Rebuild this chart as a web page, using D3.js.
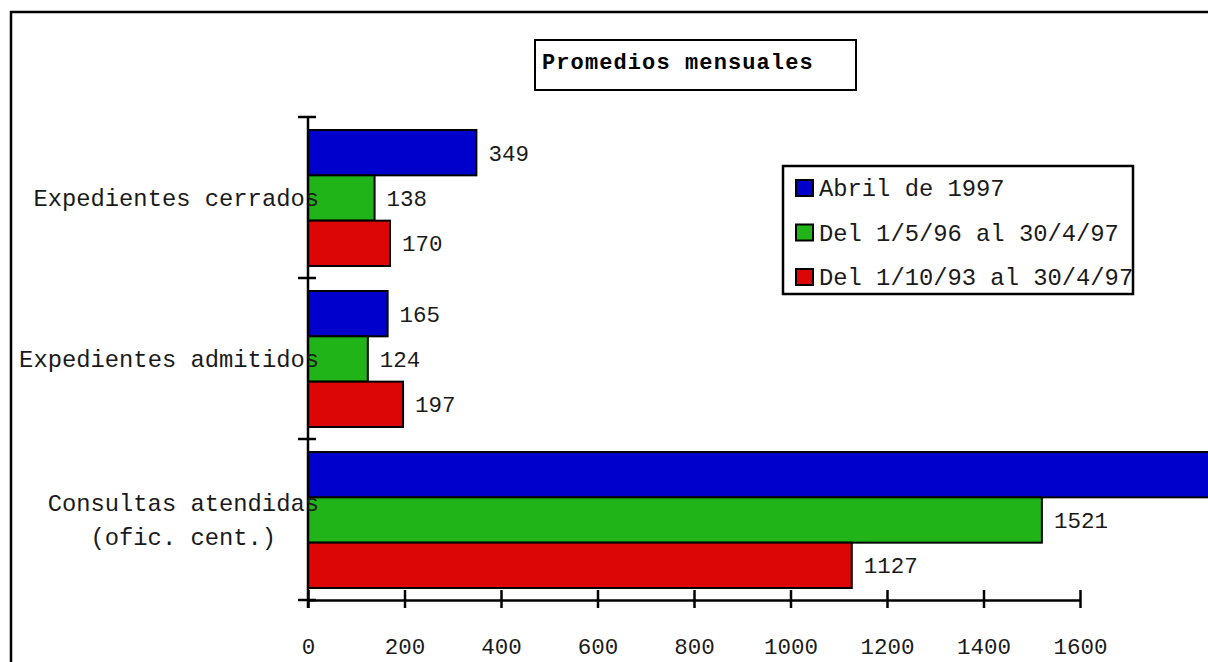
<!DOCTYPE html>
<html>
<head>
<meta charset="utf-8">
<script src="https://cdn.jsdelivr.net/npm/d3@7"></script>
<style>
  body { margin: 0; background: #fff; }
  svg { display: block; }
  text { font-family: "Liberation Mono", "Courier New", monospace; }
</style>
</head>
<body>
<div id="vis"></div>
<script>
// categories (label lines) and series
const categories = ["Expedientes cerrados", "Expedientes admitidos", "Consultas atendidas"];
const categoryLines = [["Expedientes cerrados"], ["Expedientes admitidos"], ["Consultas atendidas", "(ofic. cent.)"]];
const series = ["Abril de 1997", "Del 1/5/96 al 30/4/97", "Del 1/10/93 al 30/4/97"];
const abril1997 = [349, 165, 1950];
const del1596 = [138, 124, 1521];
const del11093 = [170, 197, 1127];
const xTicks = [0, 200, 400, 600, 800, 1000, 1200, 1400, 1600];
const colors = ["#0000cc", "#20b418", "#dd0606"];
const title = "Promedios mensuales";

const width = 1208;
const height = 662;
const margin = {left: 308, top: 117, bottom: 62, right: 128};

const values = [abril1997, del1596, del11093];

const svg = d3.select("#vis")
        .append("svg")
        .attr("width", width)
        .attr("height", height);

// outer frame (runs off the right and bottom)
svg.append("rect")
        .attr("x", 11)
        .attr("y", 12)
        .attr("width", width + 50)
        .attr("height", height + 50)
        .attr("fill", "none")
        .attr("stroke", "black")
        .attr("stroke-width", 2.5);

const x = d3.scaleLinear()
        .domain([0, 1600])
        .range([margin.left, width - margin.right]);

const y0 = d3.scaleBand()
        .domain(categories)
        .range([margin.top, height - margin.bottom]);

const y1 = d3.scaleBand()
        .domain(series)
        .range([13, y0.bandwidth() - 12]);

// bars
const groups = svg.append("g")
        .selectAll("g")
        .data(categories)
        .join("g")
        .attr("transform", d => "translate(0," + y0(d) + ")");

groups.each(function(cat, ci) {
  const g = d3.select(this);
  series.forEach((s, si) => {
    const v = values[si][ci];
    g.append("rect")
            .attr("x", x(0))
            .attr("y", y1(s))
            .attr("width", x(v) - x(0))
            .attr("height", y1.bandwidth())
            .attr("fill", colors[si])
            .attr("stroke", "black")
            .attr("stroke-width", 2);
    // labels past the page edge are not visible in the original
    if(x(v) + 12 < width) {
      g.append("text")
              .attr("x", x(v) + 12)
              .attr("y", y1(s) + y1.bandwidth() / 2)
              .attr("dy", "0.35em")
              .attr("font-size", 22.5)
              .attr("fill", "#1a1a1a")
              .text(v);
    }
  });
});

// y axis
const yEnd = height - margin.bottom;
svg.append("line")
        .attr("x1", x(0)).attr("x2", x(0))
        .attr("y1", margin.top).attr("y2", yEnd + 8)
        .attr("stroke", "black")
        .attr("stroke-width", 2.5);

const bounds = categories.map(c => y0(c)).concat([yEnd]);
svg.append("g")
        .selectAll("line")
        .data(bounds)
        .join("line")
        .attr("x1", x(0) - 10).attr("x2", x(0) + 8)
        .attr("y1", d => d).attr("y2", d => d)
        .attr("stroke", "black")
        .attr("stroke-width", 2.5);

// x axis
const xAxis = d3.axisBottom(x)
        .tickValues(xTicks)
        .tickFormat(d3.format("d"))
        .tickSizeOuter(0)
        .tickSizeInner(8)
        .tickPadding(30);

svg.append("g")
        .attr("transform", "translate(0," + yEnd + ")")
        .call(xAxis)
        .call(g => g.select(".domain").attr("stroke-width", 2.5))
        .call(g => g.selectAll(".tick line").attr("y1", -10).attr("stroke-width", 2.5))
        .call(g => g.selectAll("text")
                .attr("font-size", 22.5)
                .attr("font-family", "Liberation Mono, Courier New, monospace")
                .attr("fill", "#1a1a1a"));

// category labels
categories.forEach((c, ci) => {
  const lines = categoryLines[ci];
  const cy = y0(c) + y0.bandwidth() / 2;
  const lh = 34;
  const top = cy - (lines.length - 1) * lh / 2;
  const first = svg.append("text")
          .attr("x", 319)
          .attr("y", top)
          .attr("dy", "0.35em")
          .attr("text-anchor", "end")
          .attr("font-size", 23.8)
          .attr("fill", "#1a1a1a")
          .text(lines[0]);
  const w = first.node().getComputedTextLength();
  for(let i = 1; i < lines.length; i++) {
    svg.append("text")
            .attr("x", 319 - w / 2)
            .attr("y", top + i * lh)
            .attr("dy", "0.35em")
            .attr("text-anchor", "middle")
            .attr("font-size", 23.8)
            .attr("fill", "#1a1a1a")
            .text(lines[i]);
  }
});

// title box
svg.append("rect")
        .attr("x", 535)
        .attr("y", 40)
        .attr("width", 321)
        .attr("height", 50)
        .attr("fill", "white")
        .attr("stroke", "black")
        .attr("stroke-width", 2);

svg.append("text")
        .attr("x", 542)
        .attr("y", 69)
        .attr("font-size", 22)
        .attr("font-weight", "bold")
        .attr("letter-spacing", 1.1)
        .attr("fill", "black")
        .text(title);

// legend
const legend = svg.append("g").attr("transform", "translate(783,166)");
legend.append("rect")
        .attr("width", 350)
        .attr("height", 128)
        .attr("fill", "white");

series.forEach((s, i) => {
  const row = legend.append("g").attr("transform", "translate(13," + (22 + i * 44.5) + ")");
  row.append("rect")
          .attr("x", 0)
          .attr("y", -8)
          .attr("width", 17)
          .attr("height", 16)
          .attr("fill", colors[i])
          .attr("stroke", "black")
          .attr("stroke-width", 2);
  row.append("text")
          .attr("x", 23)
          .attr("dy", "0.35em")
          .attr("font-size", 23.8)
          .attr("fill", "#1a1a1a")
          .text(s);
});

legend.append("rect")
        .attr("width", 350)
        .attr("height", 128)
        .attr("fill", "none")
        .attr("stroke", "black")
        .attr("stroke-width", 2.5);
</script>
</body>
</html>
